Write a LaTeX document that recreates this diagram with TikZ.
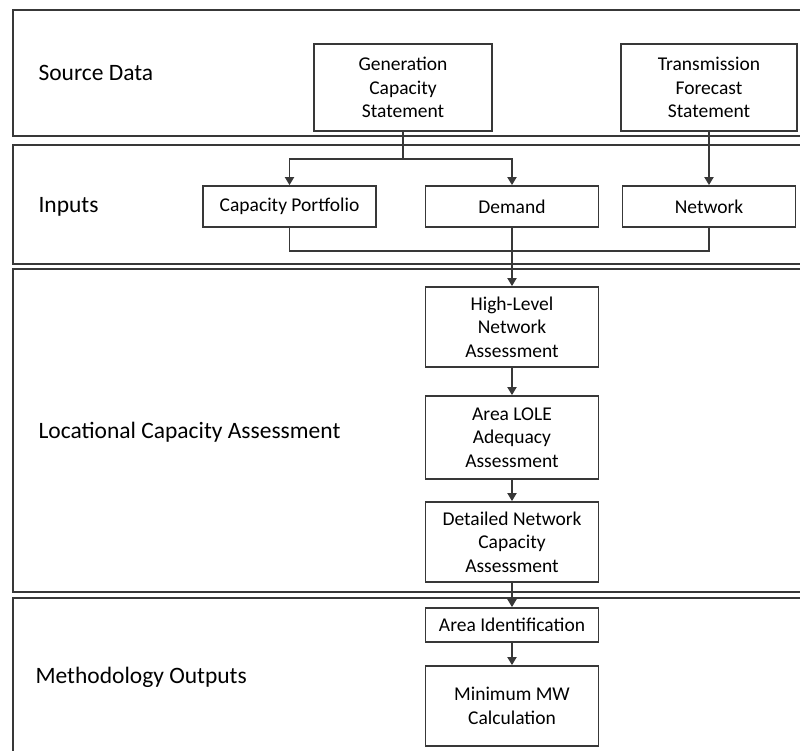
\documentclass[tikz,border=0pt]{standalone}
\usepackage{fontspec}
\setmainfont{Carlito}
\usetikzlibrary{arrows.meta, positioning}
\definecolor{linegray}{HTML}{383838}
\tikzset{
    bandbox/.style={draw=linegray, line width=2.4pt},
    bandlabel/.style={anchor=west, font=\fontsize{23.5}{28}\selectfont},
    stepbox/.style={draw=linegray, line width=1.8pt, align=center, inner sep=0pt,
        minimum width=173pt, font=\fontsize{19.5}{23.5}\selectfont},
    flow/.style={draw=linegray, line width=1.8pt,
        -{Triangle[length=8pt, width=9pt]}},
    joinline/.style={draw=linegray, line width=1.8pt},
}

\begin{document}
\begin{tikzpicture}[x=1pt, y=-1pt]
    \clip (0,0) rectangle (800,751);
    % the four bands
    \draw[bandbox] (13,10) rectangle (820,136);
    \draw[bandbox] (13,145) rectangle (820,264);
    \draw[bandbox] (13,269) rectangle (820,592);
    \draw[bandbox] (13,598) rectangle (820,770);
    \node[bandlabel] (srclabel) at (35,73) {Source Data};
    \node[bandlabel] (inlabel) at (35,207) {Inputs};
    \node[bandlabel] (loclabel) at (35,432) {Locational Capacity Assessment};
    \node[bandlabel] (outlabel) at (32,677) {Methodology Outputs};
    % source data
    \node[stepbox, minimum width=178pt, minimum height=87pt] (gencap) at (403,87.5)
        {Generation\\Capacity\\Statement};
    \node[stepbox, minimum width=176pt, minimum height=87pt] (transfc) at (709,87.5)
        {Transmission\\Forecast\\Statement};
    % inputs
    \node[stepbox, minimum height=41pt] (capport) at (289.5,206.5) {Capacity Portfolio};
    \node[stepbox, minimum height=41pt] (demand) at (512,206.5) {Demand};
    \node[stepbox, minimum height=41pt] (network) at (709,206.5) {Network};
    % assessment chain
    \node[stepbox, minimum height=80pt] (hlna) at (512,327)
        {High-Level\\Network\\Assessment};
    \node[stepbox, minimum height=83pt] (lole) at (512,437.5)
        {Area LOLE\\Adequacy\\Assessment};
    \node[stepbox, minimum height=80pt] (dnca) at (512,542)
        {Detailed Network\\Capacity\\Assessment};
    \node[stepbox, minimum height=34pt] (areaid) at (512,625) {Area Identification};
    \node[stepbox, minimum height=80pt] (minmw) at (512,706)
        {Minimum MW\\Calculation};
    % connectors
    \draw[joinline] (gencap.south) -- ++(0,27) coordinate (gensplit);
    \draw[flow] (gensplit) -| (capport.north);
    \draw[flow] (gensplit) -| (demand.north);
    \draw[flow] (transfc.south) -- (network.north);
    \draw[joinline] (capport.south) -- ++(0,23) -| (network.south);
    \draw[flow] (demand.south) -- (hlna.north);
    \foreach \from/\to in {hlna/lole, lole/dnca, dnca/areaid, areaid/minmw}{
        \draw[flow] (\from.south) -- (\to.north);
    }
\end{tikzpicture}
\end{document}
